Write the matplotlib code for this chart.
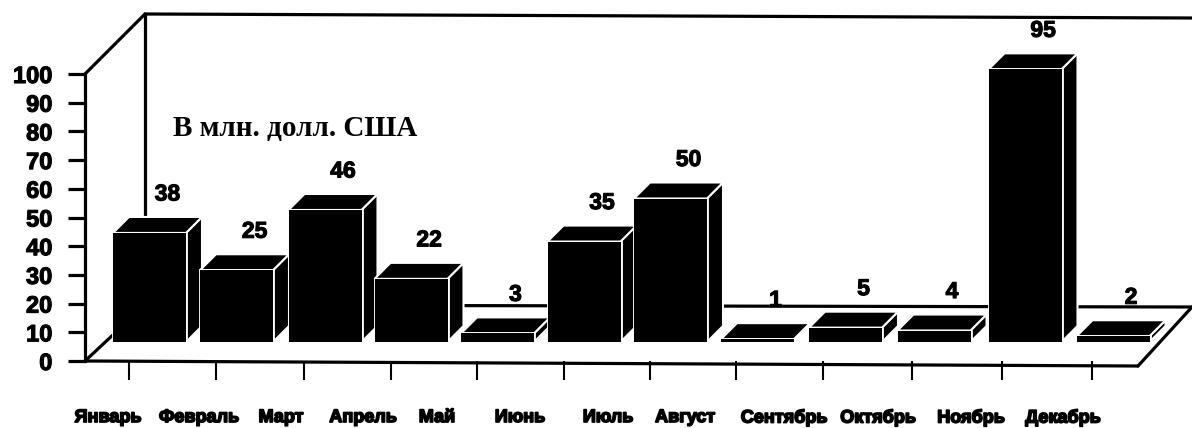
import matplotlib
matplotlib.use('Agg')
import matplotlib.pyplot as plt
import matplotlib.patheffects as pe

months = ['Январь', 'Февраль', 'Март', 'Апрель', 'Май', 'Июнь', 'Июль',
          'Август', 'Сентябрь', 'Октябрь', 'Ноябрь', 'Декабрь']
values = [38, 25, 46, 22, 3, 35, 50, 1, 5, 4, 95, 2]
y_ticks = list(range(0, 101, 10))

# layout of the picture, in pixels (the scan is a bit uneven)
W, H = 1192, 428
LEFT, RIGHT, Y0, Y100 = 85, 1138, 361, 74
bar_px = [149.5, 236.5, 325, 411, 497.5, 584, 670.5, 757.5, 845.5, 934, 1025, 1113]
tick_px = [129, 216, 304, 391, 477, 564, 650, 736, 823, 912, 1002, 1092]
label_px = [108, 199, 281, 363, 437, 520, 608, 685, 784, 878, 971, 1063]


def main():
    fig = plt.figure(figsize=(W / 100, H / 100), dpi=100)
    ax = fig.add_axes([LEFT / W, 1 - Y0 / H, (RIGHT - LEFT) / W, (Y0 - Y100) / H])
    # x axis simply runs in pixels, y axis in the chart's values
    ax.set_xlim(LEFT, RIGHT)
    ax.set_ylim(0, 100)

    uy = 100 / (Y0 - Y100)       # one pixel in y units
    base = 19 * uy
    width = 73
    dx, dy = 16, 16 * uy
    lw = 2.3
    heavy = [pe.withStroke(linewidth=0.8, foreground='black')]
    heavier = [pe.withStroke(linewidth=1.2, foreground='black')]

    # walls and floor
    wall_x = LEFT + 60
    line = dict(color='black', lw=lw, clip_on=False, zorder=1, solid_capstyle='round')
    ax.plot([LEFT, wall_x], [100, 100 + 60 * uy], **line)
    ax.plot([wall_x, wall_x], [100 + 60 * uy, 40], **line)
    ax.plot([wall_x, W], [100 + 60 * uy, 100 + 56 * uy], **line)
    ax.plot([LEFT, wall_x], [0, 56 * uy], **line)
    ax.plot([wall_x, W], [56 * uy, 54 * uy], **line)
    ax.plot([RIGHT, W], [-5 * uy, 54 * uy], **line)
    ax.plot([LEFT, RIGHT], [0, -5 * uy], **line)

    # bars with fake depth
    for i, (c, v) in enumerate(zip(bar_px, values)):
        z = 3 + i
        l, r, top = c - width / 2, c + width / 2, base + v
        ax.fill([r, r + dx, r + dx, r], [base, base + dy, top + dy, top],
                fc='black', ec='white', lw=1.5, clip_on=False, zorder=z)
        ax.fill([l, l + dx, r + dx, r], [top, top + dy, top + dy, top],
                fc='black', ec='white', lw=1.5, clip_on=False, zorder=z)
        ax.bar(c, v, width=width, bottom=base, color='black', edgecolor='white',
               linewidth=2, clip_on=False, zorder=z)
        ax.bar(c, v, width=width, bottom=base, color='black', linewidth=0,
               clip_on=False, zorder=z)
        ax.text(c + 18, v + 20.2, str(v), ha='center', va='center', fontsize=16.5,
                fontweight='bold', family='Liberation Sans', zorder=30, clip_on=False,
                path_effects=heavy)

    # axes
    for s in ['top', 'right', 'bottom']:
        ax.spines[s].set_visible(False)
    ax.spines['left'].set_linewidth(lw)
    ax.set_yticks(y_ticks)
    ax.set_yticklabels([str(t) for t in y_ticks], fontsize=17, fontweight='bold',
                       family='Liberation Sans', path_effects=heavy)
    ax.tick_params(axis='y', length=12.5, width=lw, pad=11)
    ax.set_xticks(tick_px)
    ax.set_xticklabels([])
    ax.tick_params(axis='x', length=13.5, width=1.5)

    for p, name in zip(label_px, months):
        ax.text(p, -19.7, name, ha='center', va='center', fontsize=13, fontweight='bold',
                family='Liberation Sans', clip_on=False, path_effects=heavier)

    ax.text(173, 81, 'В млн. долл. США', ha='left', va='center', fontsize=21,
            fontweight='bold', family='Liberation Serif', zorder=30)

    fig.savefig('out.png', dpi=100)


if __name__ == '__main__':
    main()
